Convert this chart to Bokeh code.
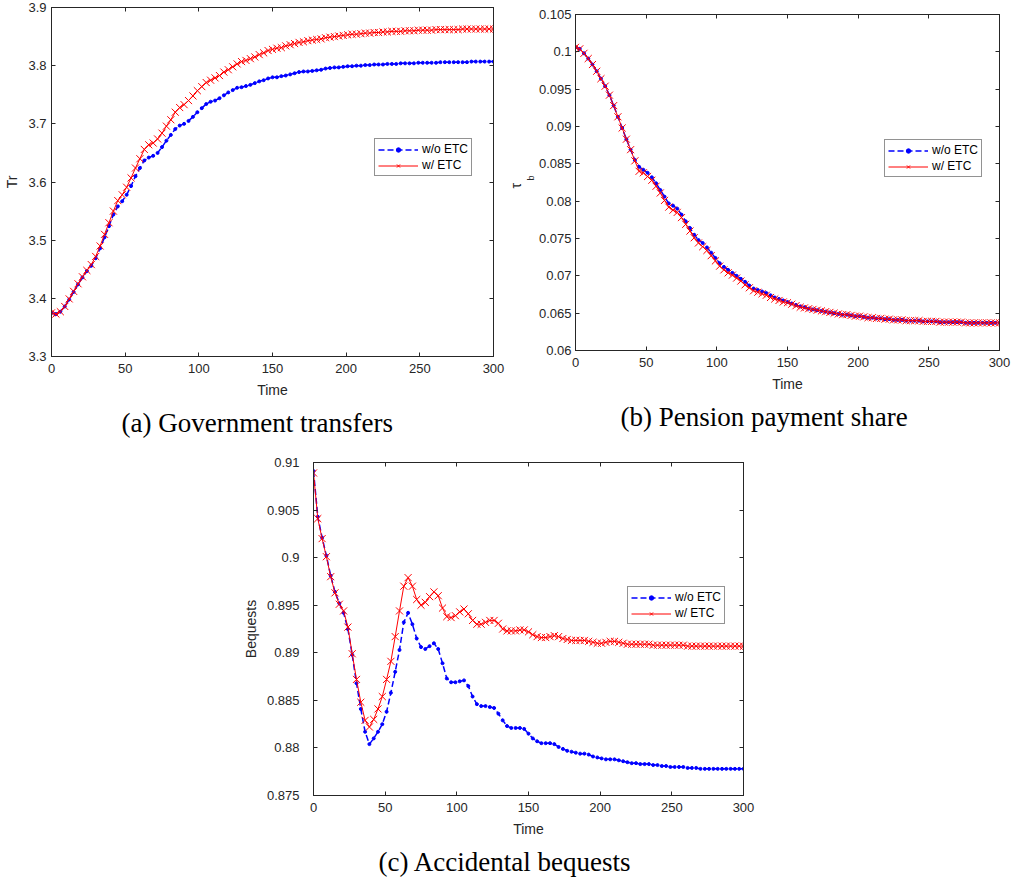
from bokeh.plotting import figure
from bokeh.models import (Range1d, FixedTicker, LinearAxis, NumeralTickFormatter,
                          Legend, LegendItem, Title, Spacer)
from bokeh.layouts import column, row
from bokeh.embed import file_html
from bokeh.resources import INLINE

# ---------------- data ----------------
time = list(range(0, 301, 3))
x_ticks = [0, 50, 100, 150, 200, 250, 300]

# (a) Government transfers
tr_no = [3.375, 3.373, 3.377, 3.386, 3.398, 3.411, 3.424, 3.436, 3.447, 3.456,
         3.469, 3.486, 3.505, 3.524, 3.544, 3.558, 3.567, 3.578, 3.593, 3.610,
         3.624, 3.637, 3.642, 3.645, 3.650, 3.660, 3.671, 3.681, 3.691, 3.697,
         3.700, 3.705, 3.712, 3.720, 3.727, 3.734, 3.738, 3.740, 3.744, 3.749,
         3.754, 3.758, 3.762, 3.763, 3.765, 3.767, 3.770, 3.773, 3.775, 3.778,
         3.780, 3.780, 3.782, 3.783, 3.785, 3.787, 3.789, 3.790, 3.790, 3.791,
         3.792, 3.793, 3.795, 3.796, 3.797, 3.797, 3.798, 3.799, 3.799, 3.800,
         3.800, 3.801, 3.801, 3.802, 3.802, 3.802, 3.803, 3.803, 3.803, 3.804,
         3.804, 3.804, 3.804, 3.805, 3.805, 3.805, 3.805, 3.805, 3.806, 3.806,
         3.806, 3.806, 3.806, 3.806, 3.806, 3.807, 3.807, 3.807, 3.807, 3.807,
         3.807]
tr_etc = [3.375, 3.373, 3.377, 3.386, 3.399, 3.412, 3.425, 3.437, 3.448, 3.458,
          3.472, 3.490, 3.510, 3.530, 3.550, 3.568, 3.578, 3.591, 3.607, 3.624,
          3.640, 3.656, 3.664, 3.667, 3.674, 3.684, 3.696, 3.707, 3.720, 3.728,
          3.733, 3.740, 3.748, 3.757, 3.764, 3.771, 3.775, 3.779, 3.783, 3.789,
          3.793, 3.798, 3.803, 3.807, 3.809, 3.812, 3.815, 3.819, 3.822, 3.826,
          3.828, 3.830, 3.831, 3.834, 3.836, 3.838, 3.840, 3.841, 3.843, 3.844,
          3.845, 3.846, 3.848, 3.849, 3.850, 3.851, 3.852, 3.853, 3.854, 3.854,
          3.855, 3.856, 3.856, 3.857, 3.857, 3.858, 3.858, 3.859, 3.859, 3.859,
          3.860, 3.860, 3.860, 3.861, 3.861, 3.861, 3.861, 3.862, 3.862, 3.862,
          3.862, 3.862, 3.862, 3.863, 3.863, 3.863, 3.863, 3.863, 3.863, 3.863,
          3.863]
tr_yticks = [3.3, 3.4, 3.5, 3.6, 3.7, 3.8, 3.9]

# (b) Pension payment share
tau_no = [0.1006, 0.1004, 0.0998, 0.0991, 0.0983, 0.0974, 0.0964, 0.0954, 0.0942, 0.0928,
          0.0913, 0.0898, 0.0883, 0.0869, 0.0855, 0.0846, 0.0842, 0.0838, 0.0832, 0.0824,
          0.0815, 0.0806, 0.0797, 0.0794, 0.0790, 0.0782, 0.0773, 0.0764, 0.0755, 0.0748,
          0.0744, 0.0738, 0.0731, 0.0724, 0.0717, 0.0712, 0.0708, 0.0704, 0.0700, 0.0696,
          0.0692, 0.0687, 0.0683, 0.0681, 0.0679, 0.0677, 0.0674, 0.0671, 0.0669, 0.0667,
          0.0665, 0.0663, 0.0661, 0.0659, 0.0658, 0.0656, 0.0655, 0.0654, 0.0653, 0.0652,
          0.0651, 0.0650, 0.0649, 0.0648, 0.0648, 0.0647, 0.0646, 0.0646, 0.0645, 0.0644,
          0.0644, 0.0643, 0.0643, 0.0642, 0.0642, 0.0641, 0.0641, 0.0641, 0.0640, 0.0640,
          0.0640, 0.0640, 0.0639, 0.0639, 0.0639, 0.0639, 0.0638, 0.0638, 0.0638, 0.0638,
          0.0638, 0.0638, 0.0637, 0.0637, 0.0637, 0.0637, 0.0637, 0.0637, 0.0637, 0.0637,
          0.0637]
tau_etc = [0.1006, 0.1004, 0.0998, 0.0991, 0.0983, 0.0974, 0.0964, 0.0954, 0.0942, 0.0928,
           0.0913, 0.0898, 0.0883, 0.0869, 0.0854, 0.0840, 0.0838, 0.0833, 0.0828, 0.0820,
           0.0811, 0.0801, 0.0792, 0.0788, 0.0785, 0.0778, 0.0769, 0.0760, 0.0751, 0.0744,
           0.0739, 0.0734, 0.0727, 0.0720, 0.0713, 0.0708, 0.0704, 0.0701, 0.0697, 0.0693,
           0.0688, 0.0684, 0.0680, 0.0678, 0.0676, 0.0674, 0.0671, 0.0669, 0.0667, 0.0665,
           0.0664, 0.0662, 0.0660, 0.0658, 0.0657, 0.0656, 0.0655, 0.0654, 0.0653, 0.0652,
           0.0651, 0.0650, 0.0649, 0.0648, 0.0648, 0.0647, 0.0646, 0.0646, 0.0645, 0.0644,
           0.0644, 0.0643, 0.0643, 0.0642, 0.0642, 0.0641, 0.0641, 0.0641, 0.0640, 0.0640,
           0.0640, 0.0640, 0.0639, 0.0639, 0.0639, 0.0639, 0.0638, 0.0638, 0.0638, 0.0638,
           0.0638, 0.0638, 0.0637, 0.0637, 0.0637, 0.0637, 0.0637, 0.0637, 0.0637, 0.0637,
           0.0637]
tau_yticks = [0.06, 0.065, 0.07, 0.075, 0.08, 0.085, 0.09, 0.095, 0.1, 0.105]

# (c) Accidental bequests
beq_no = [0.9091, 0.9043, 0.9021, 0.9002, 0.8981, 0.8964, 0.8952, 0.8942, 0.8925, 0.8898,
          0.8868, 0.8841, 0.8817, 0.8804, 0.8810, 0.8817, 0.8825, 0.8838, 0.8858, 0.8880,
          0.8903, 0.8932, 0.8942, 0.8930, 0.8915, 0.8906, 0.8904, 0.8907, 0.8910, 0.8904,
          0.8889, 0.8873, 0.8869, 0.8869, 0.8870, 0.8871, 0.8865, 0.8854, 0.8846, 0.8844,
          0.8844, 0.8843, 0.8842, 0.8836, 0.8829, 0.8823, 0.8821, 0.8821, 0.8821, 0.8820,
          0.8815, 0.8810, 0.8807, 0.8805, 0.8805, 0.8805, 0.8804, 0.8801, 0.8799, 0.8797,
          0.8796, 0.8795, 0.8794, 0.8794, 0.8793, 0.8791, 0.8790, 0.8789, 0.8788, 0.8788,
          0.8788, 0.8787, 0.8786, 0.8785, 0.8784, 0.8784, 0.8783, 0.8783, 0.8783, 0.8782,
          0.8782, 0.8781, 0.8781, 0.8780, 0.8780, 0.8780, 0.8780, 0.8779, 0.8779, 0.8779,
          0.8778, 0.8778, 0.8778, 0.8778, 0.8778, 0.8778, 0.8778, 0.8778, 0.8778, 0.8778,
          0.8778]
beq_etc = [0.9089, 0.9041, 0.9020, 0.9001, 0.8980, 0.8963, 0.8951, 0.8944, 0.8927, 0.8899,
           0.8872, 0.8848, 0.8829, 0.8822, 0.8830, 0.8841, 0.8854, 0.8872, 0.8891, 0.8917,
           0.8944, 0.8970, 0.8979, 0.8970, 0.8956, 0.8950, 0.8953, 0.8959, 0.8964, 0.8960,
           0.8947, 0.8938, 0.8937, 0.8939, 0.8943, 0.8946, 0.8941, 0.8934, 0.8930, 0.8930,
           0.8932, 0.8934, 0.8934, 0.8931, 0.8925, 0.8923, 0.8923, 0.8923, 0.8924, 0.8924,
           0.8922, 0.8919, 0.8917, 0.8916, 0.8916, 0.8917, 0.8918, 0.8917, 0.8915, 0.8914,
           0.8913, 0.8913, 0.8913, 0.8913, 0.8912, 0.8911, 0.8910, 0.8910, 0.8911, 0.8912,
           0.8912, 0.8911, 0.8910, 0.8909, 0.8909, 0.8909, 0.8909, 0.8909, 0.8909, 0.8908,
           0.8908, 0.8908, 0.8908, 0.8908, 0.8908, 0.8908, 0.8908, 0.8907, 0.8907, 0.8907,
           0.8907, 0.8907, 0.8907, 0.8907, 0.8907, 0.8907, 0.8907, 0.8907, 0.8907, 0.8907,
           0.8907]
beq_yticks = [0.875, 0.88, 0.885, 0.89, 0.895, 0.9, 0.905, 0.91]

series_labels = ["w/o ETC", "w/ ETC"]

# ---------------- styling ----------------
AX = "#262626"
SANS = "Liberation Sans"
SERIF = "Liberation Serif"


def make_panel(width, height, borders, y_lim, y_ticks, ylabel, ytick_standoff,
               ylab_standoff, no, etc, legend_loc, caption, cap_offset):
    left, right, top, bottom = borders
    p = figure(width=width, height=height, output_backend="svg",
               toolbar_location=None,
               x_range=Range1d(0, 300), y_range=Range1d(*y_lim),
               min_border_left=left, min_border_right=right,
               min_border_top=top, min_border_bottom=bottom)
    p.grid.visible = False
    p.outline_line_color = AX
    p.outline_line_width = 1
    p.background_fill_color = "white"
    p.border_fill_color = "white"

    xa = p.xaxis[0]
    ya = p.yaxis[0]
    xa.ticker = FixedTicker(ticks=x_ticks)
    ya.ticker = FixedTicker(ticks=y_ticks)
    ya.formatter = NumeralTickFormatter(format="0.[000]")
    xa.formatter = NumeralTickFormatter(format="0")
    xa.axis_label = "Time"
    if ylabel:
        ya.axis_label = ylabel
    for ax in (xa, ya):
        ax.axis_line_color = AX
        ax.major_tick_line_color = AX
        ax.major_tick_in = 4
        ax.major_tick_out = 0
        ax.minor_tick_line_color = None
        ax.major_label_text_font = SANS
        ax.major_label_text_font_size = "13px"
        ax.major_label_text_color = AX
        ax.axis_label_text_font = SANS
        ax.axis_label_text_font_size = "14px"
        ax.axis_label_text_font_style = "normal"
        ax.axis_label_text_color = AX
    xa.major_label_standoff = 7
    xa.axis_label_standoff = 6
    ya.major_label_standoff = ytick_standoff
    ya.axis_label_standoff = ylab_standoff

    # box ticks on top and right (no labels)
    for loc, tk in (("above", x_ticks), ("right", y_ticks)):
        ex = LinearAxis(ticker=FixedTicker(ticks=tk))
        ex.axis_line_color = AX
        ex.major_tick_line_color = AX
        ex.major_tick_in = 4
        ex.major_tick_out = 0
        ex.minor_tick_line_color = None
        ex.major_label_text_font_size = "1px"
        ex.major_label_text_color = None
        ex.major_label_standoff = 0
        p.add_layout(ex, loc)

    bl = p.line(time, no, line_color="#0000ff", line_width=1.5, line_dash="6 3")
    bs = p.scatter(time, no, marker="circle", size=3,
                   fill_color="#0000ff", line_color="#0000ff")
    rl = p.line(time, etc, line_color="#ff0000", line_width=1)
    rs = p.scatter(time, etc, marker="x", size=10, line_color="#ff0000",
                   line_width=1)

    legend = Legend(items=[LegendItem(label=series_labels[0], renderers=[bl, bs]),
                           LegendItem(label=series_labels[1], renderers=[rl, rs])],
                    location=legend_loc, label_text_font=SANS,
                    label_text_font_size="12px", label_text_color="#000000",
                    glyph_width=40, glyph_height=11, label_height=14,
                    label_standoff=4, spacing=2, padding=3, margin=0,
                    border_line_color=AX, border_line_width=1,
                    background_fill_color="white", background_fill_alpha=1)
    p.add_layout(legend)

    cap = Title(text=caption, align="left", offset=cap_offset,
                text_font=SERIF, text_font_size="27px",
                text_font_style="normal", text_color="#000000")
    p.add_layout(cap, "below")
    return p


# (a): frame x 51..493, y 7..356
pa = make_panel(505, 445, (51, 12, 7, 89), (3.3, 3.9), tr_yticks, "Tr", 5, 5,
                tr_no, tr_etc, (323, 180), "(a) Government transfers", 70)

# (b): frame x 573..999, y 14..350  (placed 7px lower via spacer)
pb = make_panel(507, 432, (68, 13, 7, 89), (0.06, 0.105), tau_yticks, None, 4, 8,
                tau_no, tau_etc, (309, 173), "(b) Pension payment share", 45)
# y label: tau with subscript b (stacked outward from the frame: "b" then "τ")
pb.add_layout(Title(text="b", align="left", offset=170, standoff=0,
                    text_font=SANS, text_font_size="9px",
                    text_font_style="normal", text_color=AX), "left")
pb.add_layout(Title(text="τ", align="left", offset=162, standoff=0,
                    text_font=SANS, text_font_size="14px",
                    text_font_style="normal", text_color=AX), "left")

# (c): frame x 313..743, y 462..799
pc = make_panel(1012, 436, (313, 269, 17, 82), (0.875, 0.91), beq_yticks,
                "Bequests", 14, 5, beq_no, beq_etc, (314, 171),
                "(c) Accidental bequests", 65)

col_b = column(Spacer(width=507, height=7), pb, Spacer(width=507, height=6))
layout = column(row(pa, col_b), pc)

open("out.html", "w").write(file_html(layout, INLINE))
